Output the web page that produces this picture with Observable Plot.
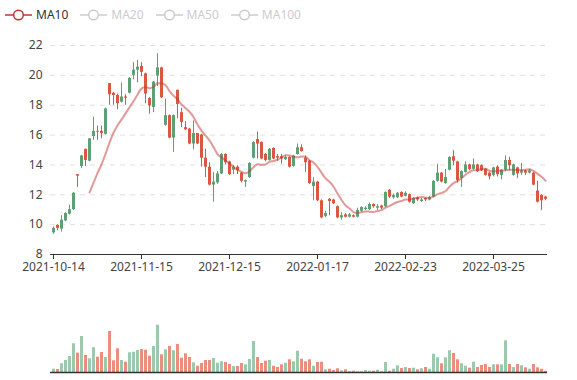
<!DOCTYPE html>
<html><head><meta charset="utf-8">
<script src="https://cdn.jsdelivr.net/npm/d3@7"></script>
<script src="https://cdn.jsdelivr.net/npm/@observablehq/plot@0.6"></script>
<style>
body{margin:0;background:#fff;font-family:"Noto Sans",sans-serif;}
#wrap{position:relative;width:577px;height:380px;overflow:hidden;background:#fff;}
#main{position:absolute;left:0;top:0}
#vol{position:absolute;left:0;top:290px}
#legend{position:absolute;left:5px;top:6px;display:flex;align-items:center;font-size:12px;line-height:18px;}
.item{display:flex;align-items:center;margin-right:12px}
.item svg{margin-right:4px}
</style></head><body>
<div id="wrap"><div id="main"></div><div id="vol"></div><div id="legend"></div></div>
<script>
const dates = [
"2021-10-14","2021-10-15","2021-10-18","2021-10-19","2021-10-20","2021-10-21","2021-10-22","2021-10-25","2021-10-26","2021-10-27","2021-10-28","2021-10-29",
"2021-11-01","2021-11-02","2021-11-03","2021-11-04","2021-11-05","2021-11-08","2021-11-09","2021-11-10","2021-11-11","2021-11-12","2021-11-15","2021-11-16","2021-11-17","2021-11-18","2021-11-19","2021-11-22","2021-11-23","2021-11-24","2021-11-25","2021-11-26","2021-11-29","2021-11-30",
"2021-12-01","2021-12-02","2021-12-03","2021-12-06","2021-12-07","2021-12-08","2021-12-09","2021-12-10","2021-12-13","2021-12-14","2021-12-15","2021-12-16","2021-12-17","2021-12-20","2021-12-21","2021-12-22","2021-12-23","2021-12-24","2021-12-27","2021-12-28","2021-12-29","2021-12-30","2021-12-31",
"2022-01-04","2022-01-05","2022-01-06","2022-01-07","2022-01-10","2022-01-11","2022-01-12","2022-01-13","2022-01-14","2022-01-17","2022-01-18","2022-01-19","2022-01-20","2022-01-21","2022-01-24","2022-01-25","2022-01-26","2022-01-27","2022-01-28",
"2022-02-07","2022-02-08","2022-02-09","2022-02-10","2022-02-11","2022-02-14","2022-02-15","2022-02-16","2022-02-17","2022-02-18","2022-02-21","2022-02-22","2022-02-23","2022-02-24","2022-02-25","2022-02-28",
"2022-03-01","2022-03-02","2022-03-03","2022-03-04","2022-03-07","2022-03-08","2022-03-09","2022-03-10","2022-03-11","2022-03-14","2022-03-15","2022-03-16","2022-03-17","2022-03-18","2022-03-21","2022-03-22","2022-03-23","2022-03-24","2022-03-25","2022-03-28","2022-03-29","2022-03-30","2022-03-31",
"2022-04-01","2022-04-06","2022-04-07","2022-04-08","2022-04-11","2022-04-12","2022-04-13","2022-04-14","2022-04-15"
];
const open = [9.45,9.95,9.7,10.25,10.7,11.0,13.35,13.9,15.05,14.25,15.9,16.25,16.25,16.05,19.45,18.8,18.65,18.2,18.55,18.8,20.0,20.35,20.6,20.1,18.45,17.85,19.95,20.5,16.65,17.3,15.8,19.0,17.5,16.5,16.4,15.4,16.1,16.0,14.45,13.85,12.65,12.8,13.4,14.7,14.2,13.65,13.85,13.45,12.85,13.15,14.45,15.7,15.5,14.7,14.3,15.1,14.55,14.55,14.35,14.5,13.9,14.7,15.15,14.45,14.25,12.55,12.85,11.6,10.55,11.7,11.65,11.2,10.45,10.65,10.5,10.6,10.5,10.9,11.0,11.0,11.35,11.1,11.25,11.2,12.3,11.8,11.8,12.15,11.9,12.0,11.4,11.8,11.55,11.75,11.65,11.85,12.9,13.45,12.75,13.65,14.55,14.2,13.1,13.5,14.0,13.7,14.0,13.95,13.7,13.45,13.3,13.85,13.3,13.65,14.3,13.3,13.8,13.45,13.6,13.45,13.45,12.25,11.95,11.85];
const close = [9.75,9.75,10.3,10.75,11.0,12.1,13.25,14.6,14.3,15.75,16.25,16.2,16.1,17.75,18.7,18.65,18.1,18.55,18.47,19.8,20.35,20.55,20.2,18.75,17.95,19.55,20.5,18.5,17.3,15.8,17.3,18.05,16.85,16.35,15.4,16.1,15.4,14.45,13.85,12.65,12.85,13.4,14.7,14.15,13.35,13.85,13.6,12.9,12.95,14.1,15.5,15.4,14.4,14.3,15.05,14.4,14.45,14.4,14.5,13.85,14.6,15.15,14.9,14.15,12.75,12.85,11.6,10.45,10.75,11.55,11.4,10.45,10.6,10.5,10.65,10.5,10.95,11.15,11.1,11.35,11.2,11.2,11.1,12.15,11.85,11.95,12.1,11.85,12.1,11.5,11.75,11.65,11.65,11.65,11.8,12.9,13.45,12.85,13.15,14.5,14.25,12.95,13.55,14.0,13.7,14.0,13.55,13.6,13.3,13.2,13.8,13.35,13.65,14.3,13.95,14.0,13.4,13.6,13.45,13.6,12.65,11.5,11.6,11.7];
const high = [9.85,10.0,10.6,10.8,11.3,12.15,13.35,14.65,15.05,15.75,17.2,16.6,16.6,17.8,19.45,18.85,18.75,19.5,18.7,19.85,20.85,21.0,20.85,20.15,18.5,19.6,21.45,20.55,18.4,17.35,17.35,19.0,17.8,16.9,16.45,16.95,16.1,16.05,15.05,14.15,13.5,13.55,14.75,14.75,14.25,13.95,13.95,13.5,13.0,14.15,15.55,16.2,15.55,14.75,15.1,15.15,14.7,14.7,14.6,14.55,14.65,15.4,15.35,14.6,14.3,13.15,12.9,11.65,10.9,11.75,11.7,11.25,10.8,10.75,10.75,10.65,11.1,11.2,11.2,11.45,11.4,11.35,11.3,12.2,12.35,12.05,12.15,12.2,12.2,12.05,11.8,11.85,11.75,11.8,11.9,12.95,14.05,13.5,13.7,14.55,14.95,14.25,13.6,14.2,14.05,14.4,14.05,14.0,13.75,13.5,13.85,13.95,13.7,14.6,14.5,14.05,13.85,14.1,13.65,13.7,13.5,12.9,12.0,11.9];
const low = [9.35,9.6,9.5,10.2,10.65,10.95,12.5,13.75,13.9,14.2,15.65,15.65,15.75,16.0,18.0,18.0,17.7,18.15,18.0,18.75,19.7,19.5,19.9,18.1,17.4,17.5,19.25,18.45,16.6,15.75,14.85,17.1,16.5,16.3,15.35,15.0,15.35,13.85,13.15,12.6,11.5,12.7,13.35,14.0,13.3,13.35,13.35,12.8,12.5,13.1,14.4,14.4,14.35,14.2,14.25,14.35,14.25,14.05,14.3,13.8,13.85,14.65,14.85,13.5,12.7,11.6,11.55,10.4,10.45,10.6,11.35,10.4,10.3,10.45,10.45,10.45,10.45,10.85,10.95,10.95,11.1,10.95,11.0,11.15,11.75,11.7,11.75,11.8,11.85,11.45,11.35,11.55,11.5,11.55,11.6,11.8,12.85,12.8,12.7,13.6,13.95,12.8,12.5,13.45,13.6,13.65,13.5,13.55,13.25,13.0,13.2,13.2,13.0,13.55,13.6,13.25,13.1,13.3,13.3,13.4,12.6,11.45,10.95,11.6];
const volume = [3.3,3,8.7,12,16,28.7,19.3,36,17,13.7,24.7,15.3,20,15,41,11.7,23.7,12,10.3,19.7,20.3,22,23,22.3,16.3,26,47.3,17.7,22.7,26,21.7,28,14.3,18.7,15,9.7,6.3,9,12,12,14,9.3,10.7,10,8,6,6,9,7.7,13,31,15,9,11.3,12,6.3,5,7.7,9.3,12.7,10.7,21.3,13.3,10.7,12.7,6.3,10,10.3,2.7,3.3,2,3.7,1.7,2.7,1,1.3,0.7,0.7,2,1.3,1.3,2.3,0.7,10,1.3,3.3,6.7,4,5,4,4.3,2.7,3.7,5,3.3,18.3,14.7,8.7,14.7,21.7,19,12.7,8.7,6.3,4.3,10.3,5,7,8,5,7.7,7.7,7.7,31.7,8,5,8,6.7,4.7,3.3,8,4.7,3.3,1.3];
const tickDates = ["2021-10-14","2021-11-15","2021-12-15","2022-01-17","2022-02-23","2022-03-25"];
const yTicks = [8,10,12,14,16,18,20,22];
const legendNames = ["MA10","MA20","MA50","MA100"];

const UP = "#5f9f76", DOWN = "#dc5743", UPV = "#9cc8ad", DOWNV = "#ea8e80", MA = "#c23531";
const rows = dates.map((d,i)=>({date:d, open:open[i], close:close[i], high:high[i], low:low[i], vol:volume[i]}));
const cc = d => d.close >= d.open ? UP : DOWN;
const cv = d => d.close >= d.open ? UPV : DOWNV;
const font = {fontFamily:'"Noto Sans", sans-serif', fontSize:"12px", background:"transparent", overflow:"visible"};

const main = Plot.plot({
  width:577, height:280, marginTop:45, marginBottom:26, marginLeft:50, marginRight:30,
  style:font,
  x:{type:"point", domain:dates, padding:0, axis:null, label:null},
  y:{domain:[8,22], axis:null, label:null},
  marks:[
    Plot.gridY(yTicks.slice(1), {stroke:"#e0e0e0", strokeOpacity:1, strokeDasharray:"5,5"}),
    Plot.axisY(yTicks, {tickSize:0, tickPadding:8, fill:"#444", fontSize:12, label:null}),
    Plot.ruleY([8], {stroke:"#333"}),
    Plot.axisX(tickDates, {tickSize:5, tickPadding:3, stroke:"#333", fill:"#444", fontSize:12, label:null}),
    Plot.ruleX(rows, {x:"date", y1:"low", y2:"high", stroke:cc, strokeWidth:1}),
    Plot.ruleX(rows, {x:"date", y1:"open", y2:"close", stroke:cc, strokeWidth:3}),
    Plot.lineY(rows, Plot.windowY({k:10, anchor:"end", strict:true}, {x:"date", y:"close", stroke:MA, strokeOpacity:0.5, strokeWidth:2, curve:"monotone-x"}))
  ]
});
document.getElementById("main").appendChild(main);

const vol = Plot.plot({
  width:577, height:90, marginTop:10, marginBottom:8, marginLeft:50, marginRight:30,
  style:font,
  x:{type:"point", domain:dates, padding:0, axis:null},
  y:{domain:[0,72], axis:null},
  marks:[
    Plot.ruleX(rows, {x:"date", y1:0, y2:"vol", stroke:cv, strokeWidth:3}),
    Plot.ruleY([0], {stroke:"#333", strokeWidth:1.5})
  ]
});
document.getElementById("vol").appendChild(vol);

const lg = document.getElementById("legend");
legendNames.forEach((n,i)=>{
  const col = i===0 ? MA : "#ccc";
  const it = document.createElement("div");
  it.className = "item";
  it.innerHTML = `<svg width="27" height="14"><line x1="0" y1="7" x2="27" y2="7" stroke="${col}" stroke-width="1.5"/><circle cx="13.5" cy="7" r="4.8" fill="#fff" stroke="${col}" stroke-width="1.5"/></svg><span style="color:${i===0?'#333':'#ccc'}">${n}</span>`;
  lg.appendChild(it);
});
</script>
</body></html>
